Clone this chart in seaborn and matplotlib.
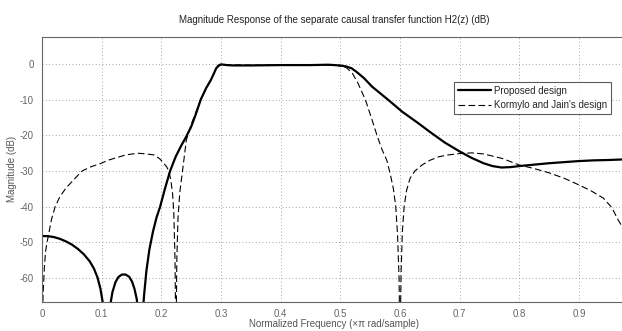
import numpy as np
import pandas as pd
import matplotlib
matplotlib.use("Agg")
import matplotlib.pyplot as plt
from matplotlib.lines import Line2D
import seaborn as sns

# Proposed design; values below the axis floor are notches
prop_x = [0.000, 0.010, 0.020, 0.030, 0.040, 0.050, 0.060, 0.070, 0.080, 0.087, 0.093,
          0.098, 0.102, 0.106, 0.110, 0.114, 0.118, 0.123, 0.128, 0.134, 0.140, 0.146,
          0.151, 0.155, 0.159, 0.162, 0.165, 0.168, 0.171, 0.175, 0.180, 0.186, 0.192,
          0.198, 0.206, 0.2147, 0.224, 0.233, 0.241, 0.250, 0.258, 0.266, 0.275, 0.283,
          0.288, 0.292, 0.296, 0.300, 0.310, 0.320, 0.350, 0.400, 0.450, 0.480, 0.500,
          0.510, 0.519, 0.528, 0.540, 0.553, 0.580, 0.604, 0.630, 0.650, 0.675, 0.700,
          0.720, 0.740, 0.755, 0.770, 0.785, 0.800, 0.825, 0.850, 0.875, 0.900, 0.925,
          0.950, 0.980]
prop_y = [-48.2, -48.25, -48.5, -49.0, -49.7, -50.6, -51.8, -53.3, -55.3, -57.3, -59.8,
          -63.0, -67.0, -75.0, -75.0, -68.0, -64.0, -61.2, -59.7, -59.0, -59.0, -59.6,
          -61.0, -63.0, -66.0, -72.0, -75.0, -72.0, -65.0, -58.0, -52.0, -47.0, -43.0,
          -40.0, -35.0, -30.0, -26.0, -23.0, -20.6, -17.6, -14.0, -10.0, -6.8, -4.5,
          -2.7, -1.2, -0.4, -0.1, -0.3, -0.4, -0.4, -0.3, -0.3, -0.2, -0.4,
          -0.7, -1.2, -2.3, -4.0, -6.3, -10.0, -13.4, -16.5, -19.0, -22.0, -24.5,
          -26.3, -27.8, -28.6, -29.0, -28.9, -28.6, -28.2, -27.8, -27.5, -27.2, -27.0,
          -26.9, -26.7]

# Kormylo and Jain's design
kj_x = [0.000, 0.002, 0.004, 0.006, 0.0085, 0.012, 0.016, 0.022, 0.030, 0.040, 0.050,
        0.067, 0.082, 0.098, 0.112, 0.126, 0.140, 0.160, 0.175, 0.188, 0.197, 0.204,
        0.209, 0.2125, 0.216, 0.219, 0.221, 0.223, 0.2245, 0.226, 0.228, 0.231, 0.2355,
        0.242, 0.250, 0.258, 0.266, 0.275, 0.283, 0.292, 0.300, 0.350, 0.400, 0.450,
        0.490, 0.500, 0.510, 0.520, 0.530, 0.542, 0.552, 0.5615, 0.570, 0.578, 0.584,
        0.589, 0.593, 0.596, 0.5985, 0.600, 0.602, 0.604, 0.607, 0.611, 0.617, 0.625,
        0.637, 0.650, 0.665, 0.680, 0.700, 0.720, 0.740, 0.760, 0.772, 0.800, 0.825,
        0.850, 0.875, 0.895, 0.920, 0.941, 0.955, 0.966, 0.978]
kj_y = [-75.0, -64.0, -57.0, -52.5, -50.0, -47.0, -43.5, -40.0, -37.2, -34.8, -33.0,
        -30.0, -28.8, -27.9, -26.9, -26.2, -25.5, -25.0, -25.2, -25.5, -26.5, -27.8,
        -28.8, -30.0, -32.5, -36.5, -42.0, -55.0, -80.0, -55.0, -43.0, -36.0, -30.0,
        -21.3, -17.0, -13.5, -10.0, -6.8, -4.5, -1.2, -0.2, -0.3, -0.3, -0.3,
        -0.3, -0.6, -1.0, -2.5, -5.5, -10.0, -15.0, -20.0, -24.0, -27.0, -31.0,
        -35.0, -40.0, -48.0, -60.0, -80.0, -58.0, -47.0, -40.0, -35.5, -32.0, -30.0,
        -28.3, -27.0, -26.0, -25.5, -25.1, -24.9, -25.2, -26.0, -26.5, -28.3, -29.3,
        -30.5, -32.0, -33.5, -35.5, -37.6, -40.2, -43.8, -47.0]

series_names = ["Proposed design", "Kormylo and Jain's design"]
xticks = [0, 0.1, 0.2, 0.3, 0.4, 0.5, 0.6, 0.7, 0.8, 0.9]
xtick_labels = ["0", "0.1", "0.2", "0.3", "0.4", "0.5", "0.6", "0.7", "0.8", "0.9"]
yticks = [-60, -50, -40, -30, -20, -10, 0]

df = pd.concat([
    pd.DataFrame({"f": prop_x, "mag": prop_y, "design": series_names[0]}),
    pd.DataFrame({"f": kj_x, "mag": kj_y, "design": series_names[1]}),
])

sns.set_theme(style="white")
plt.rcParams["font.family"] = ["Liberation Sans", "DejaVu Sans"]
plt.rcParams["axes.unicode_minus"] = False

fig = plt.figure(figsize=(6.22, 3.31), dpi=100)
ax = fig.add_axes([0.0675, 0.0876, 0.94, 0.802])

sns.lineplot(data=df, x="f", y="mag", hue="design", style="design",
             palette={series_names[0]: "black", series_names[1]: "black"},
             dashes={series_names[0]: "", series_names[1]: (6, 3)},
             size="design", sizes={series_names[0]: 1.6, series_names[1]: 0.8},
             sort=False, estimator=None, ax=ax, legend=False)

ax.set_xlim(0, 0.98)
ax.set_ylim(-66.7, 7.7)
ax.set_xticks(xticks)
ax.set_xticklabels(xtick_labels)
ax.set_yticks(yticks)
ax.grid(True, linestyle=(0, (1, 3)), color="#888888", linewidth=0.6)
ax.tick_params(axis="x", direction="in", length=3, color="#555555",
               labelsize=7, labelcolor="#666666", pad=5)
ax.tick_params(axis="y", direction="in", length=3, color="#555555",
               labelsize=7, labelcolor="#666666", pad=6)
for s in ["left", "bottom", "top"]:
    ax.spines[s].set_color("#666666")
    ax.spines[s].set_linewidth(0.8)
ax.spines["right"].set_visible(False)

ax.set_xlabel("Normalized Frequency (\u00d7\u03c0 rad/sample)", fontsize=7, color="#555555", labelpad=0)
ax.set_ylabel("Magnitude (dB)", fontsize=7, color="#555555", labelpad=2)
ax.set_title("Magnitude Response of the separate causal transfer function H2(z) (dB)",
             fontsize=7, color="#222222", pad=10)

handles = [Line2D([], [], color="black", lw=1.6),
           Line2D([], [], color="black", lw=0.8, dashes=(6, 3))]
leg = ax.legend(handles, series_names, loc="upper left",
                bbox_to_anchor=(0.705, 0.83), fontsize=7, frameon=True,
                fancybox=False, handlelength=3.4, handletextpad=0.3,
                borderpad=0.4, labelspacing=0.45, borderaxespad=0)
leg.get_frame().set_edgecolor("#333333")
leg.get_frame().set_linewidth(0.8)

fig.savefig("out.png", dpi=100)
